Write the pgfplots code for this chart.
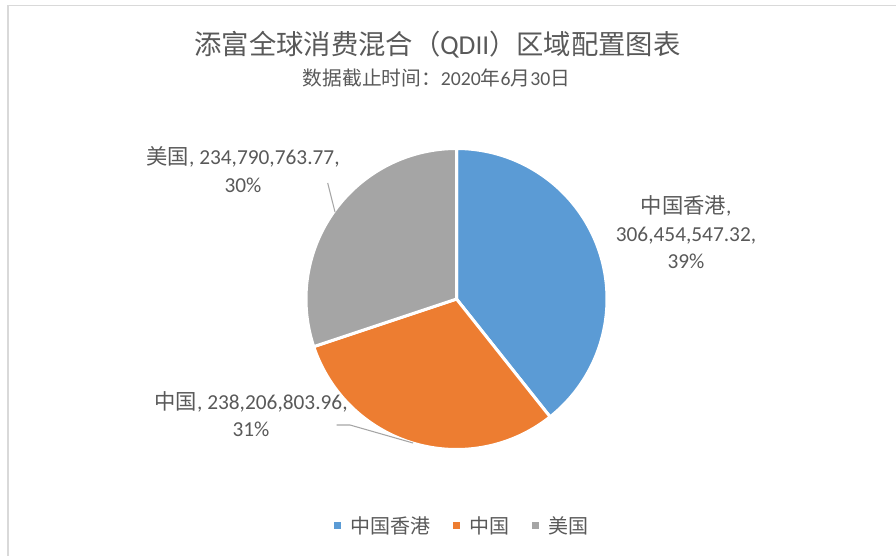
\documentclass[border=0pt]{standalone}
\usepackage{pgfplots}
\pgfplotsset{compat=1.18}
\usepackage{pgfplotstable}
\usepackage{fontspec}
\setmainfont{Carlito}
\newfontfamily\cjk{Noto Sans CJK SC}
\definecolor{cblue}{HTML}{5B9BD5}
\definecolor{corange}{HTML}{ED7D31}
\definecolor{cgray}{HTML}{A5A5A5}
\definecolor{txt}{HTML}{595959}
\definecolor{framec}{HTML}{D9D9D9}
\definecolor{leadc}{HTML}{A6A6A6}

\pgfplotstableread{
region value
HK 306454547.32
CN 238206803.96
US 234790763.77
}\piedata

\pgfplotstablegetelem{0}{value}\of\piedata \let\va\pgfplotsretval
\pgfplotstablegetelem{1}{value}\of\piedata \let\vb\pgfplotsretval
\pgfplotstablegetelem{2}{value}\of\piedata \let\vc\pgfplotsretval
\edef\total{\fpeval{\va+\vb+\vc}}
\edef\aA{90}
\edef\aB{\fpeval{90-360*\va/\total}}
\edef\aC{\fpeval{\aB-360*\vb/\total}}
\edef\aD{-270}

\begin{document}
\begin{tikzpicture}
\begin{scope}[x=0.75pt,y=-0.75pt]
\useasboundingbox (0,0) rectangle (896,556);
\draw[framec, line width=1.2pt] (8,560) -- (8,5.5) -- (900,5.5);
\end{scope}

\begin{axis}[
  at={(342.375pt,-224.25pt)}, anchor=center,
  width=225.75pt, height=225.75pt, scale only axis,
  xmin=-1, xmax=1, ymin=-1, ymax=1,
  hide axis, clip=false,
  legend columns=-1,
  legend image code/.code={\fill[#1,draw=none] (0pt,-2.6pt) rectangle (5.25pt,2.6pt);},
  legend style={at={(0.5166,-0.254)}, anchor=center, draw=none, fill=none,
    font=\cjk\fontsize{15}{18}\selectfont, text=txt,
    nodes={inner xsep=0pt, inner ysep=1pt},
    /tikz/every odd column/.append style={column sep=7.5pt},
    /tikz/every even column/.append style={column sep=16.5pt}},
]
\addplot[fill=cblue, draw=white, line width=2.25pt, domain=\aB:\aA, samples=150, variable=\t]
  ({cos(\t)}, {sin(\t)}) -- (0,0) -- cycle;
\addlegendentry{中国香港}
\addplot[fill=corange, draw=white, line width=2.25pt, domain=\aC:\aB, samples=150, variable=\t]
  ({cos(\t)}, {sin(\t)}) -- (0,0) -- cycle;
\addlegendentry{中国}
\addplot[fill=cgray, draw=white, line width=2.25pt, domain=\aD:\aC, samples=150, variable=\t]
  ({cos(\t)}, {sin(\t)}) -- (0,0) -- cycle;
\addlegendentry{美国}
\end{axis}

\begin{scope}[x=0.75pt,y=-0.75pt, every node/.style={text=txt, inner sep=0pt}]
% title
\node[anchor=base, font=\fontsize{20.5}{24}\selectfont] at (437.5,55)
  {{\cjk 添富全球消费混合（}QDII{\cjk ）区域配置图表}};
\node[anchor=base, font=\fontsize{14.8}{18}\selectfont] at (436.5,86)
  {{\cjk 数据截止时间：}2020{\cjk 年}6{\cjk 月}30{\cjk 日}};
% leader lines
\draw[leadc, line width=0.8pt] (327.7,183) -- (335,212);
\draw[leadc, line width=0.8pt] (336.7,425) -- (350,425) -- (413,443);
% data labels
\begin{scope}[every node/.append style={anchor=base, font=\fontsize{16}{20}\selectfont}]
\node at (243,165) {{\cjk 美国}, 234,790,763.77,};
\node at (243,193) {30\%};
\node at (686,214) {{\cjk 中国香港},};
\node at (686,241) {306,454,547.32,};
\node at (686,268) {39\%};
\node at (251,409) {{\cjk 中国}, 238,206,803.96,};
\node at (251,436) {31\%};
\end{scope}
\end{scope}
\end{tikzpicture}
\end{document}
